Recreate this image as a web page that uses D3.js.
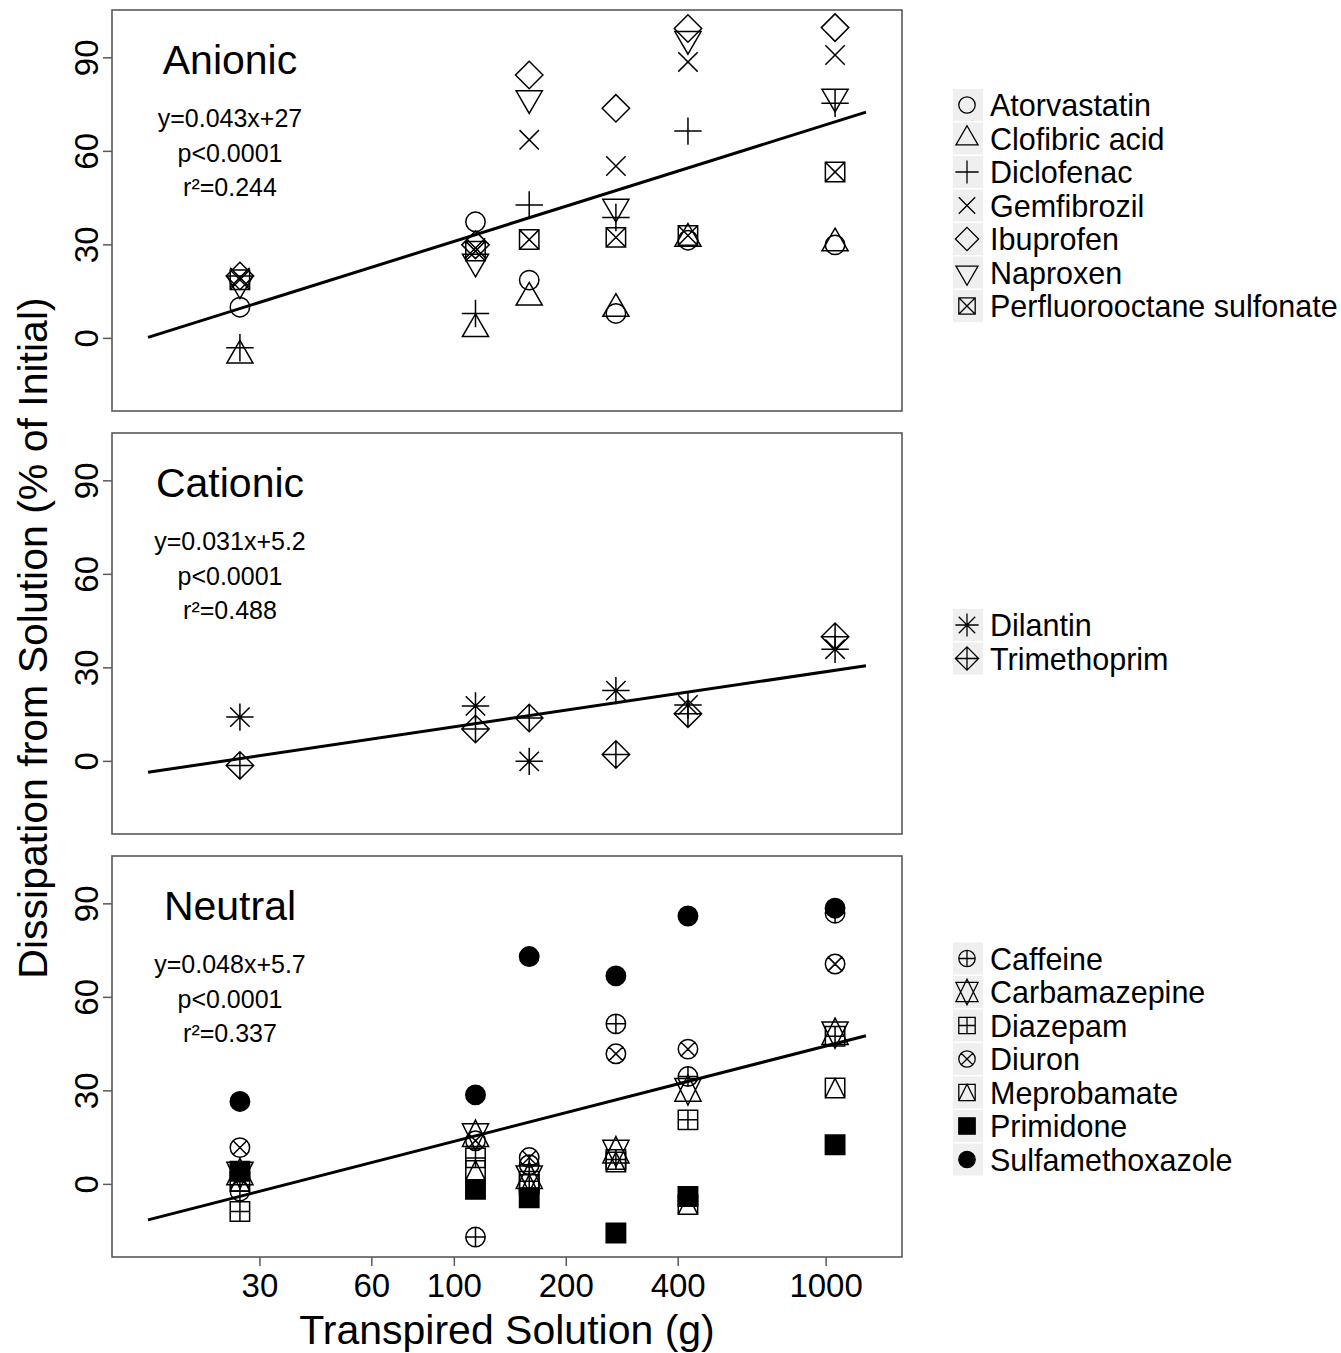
<!DOCTYPE html>
<html>
<head>
<meta charset="utf-8">
<script src="https://cdn.jsdelivr.net/npm/d3@7"></script>
<style>
  body { margin: 0; background: #fff; }
  text { font-family: "Liberation Sans", Arial, sans-serif; fill: #000; }
</style>
</head>
<body>
<svg id="chart" width="1341" height="1353"></svg>
<script>
// Data
var xValues = [26.5, 114, 159, 272, 425, 1057];
var xTicks = [30, 60, 100, 200, 400, 1000];
var yTicks = [0, 30, 60, 90];
var lineX = [15, 1280];

// Anionic
var atorvastatin   = [10, 37.4, 18.7, 8, 31.5, 30];
var clofibricAcid  = [-5.5, 3, 13.1, 9.5, 32, 30.5];
var diclofenac     = [-3, 8, 42.8, 38.8, 66.5, 75.4];
var gemfibrozil    = [19.5, 29, 63.7, 55.3, 88.7, 90.9];
var ibuprofen      = [20, 30, 84.5, 73.8, 99.4, 99.7];
var naproxen       = [17.6, 24.6, 77, 42.2, 96, 77.5];
var pfos           = [18.8, 28, 31.7, 32.4, 33, 53.4];
var anionicLine    = [0.3, 72.6];

// Cationic
var dilantin       = [14.2, 17.8, 0, 22.7, 18.1, 36];
var trimethoprim   = [-1.3, 10.4, 13.9, 2.2, 15.3, 40];
var cationicLine   = [-3.5, 30.7];

// Neutral
var caffeine         = [-2.2, -16.9, 6.3, 51.5, 34.6, 87];
var carbamazepine    = [3.5, 15.8, 2.3, 10.5, 30.3, 48.5];
var diazepam         = [-8.7, 8.5, 1, 8, 20.7, 47.5];
var diuron           = [11.8, 14, 8.6, 41.9, 43.4, 70.7];
var meprobamate      = [1, 4.5, 0, 7.2, -6.5, 30.9];
var primidone        = [4.2, -1.6, -4.3, -15.6, -3.9, 12.7];
var sulfamethoxazole = [26.6, 28.7, 73.1, 66.9, 86.1, 88.6];
var neutralLine      = [-11.4, 47.7];

var panels = [
  { title: "Anionic", eq: ["y=0.043x+27", "p<0.0001", "r\u00b2=0.244"], line: anionicLine,
    series: [
      { name: "Atorvastatin", sym: "circle", values: atorvastatin },
      { name: "Clofibric acid", sym: "triUp", values: clofibricAcid },
      { name: "Diclofenac", sym: "plus", values: diclofenac },
      { name: "Gemfibrozil", sym: "cross", values: gemfibrozil },
      { name: "Ibuprofen", sym: "diamond", values: ibuprofen },
      { name: "Naproxen", sym: "triDown", values: naproxen },
      { name: "Perfluorooctane sulfonate", sym: "squareX", values: pfos }
    ], legendY: 105 },
  { title: "Cationic", eq: ["y=0.031x+5.2", "p<0.0001", "r\u00b2=0.488"], line: cationicLine,
    series: [
      { name: "Dilantin", sym: "asterisk", values: dilantin },
      { name: "Trimethoprim", sym: "diamondPlus", values: trimethoprim }
    ], legendY: 625 },
  { title: "Neutral", eq: ["y=0.048x+5.7", "p<0.0001", "r\u00b2=0.337"], line: neutralLine,
    series: [
      { name: "Caffeine", sym: "circlePlus", values: caffeine },
      { name: "Carbamazepine", sym: "star", values: carbamazepine },
      { name: "Diazepam", sym: "squarePlus", values: diazepam },
      { name: "Diuron", sym: "circleX", values: diuron },
      { name: "Meprobamate", sym: "squareTri", values: meprobamate },
      { name: "Primidone", sym: "squareFill", values: primidone },
      { name: "Sulfamethoxazole", sym: "circleFill", values: sulfamethoxazole }
    ], legendY: 958.5 }
];

var svg = d3.select("#chart");
var left = 112, right = 902, panelH = 401, panelTops = [10, 433, 856];
var axisColor = "#595959";

var x = d3.scaleLog().domain([12, 1600]).range([left, right]);

// R-style plotting symbols, centred at 0,0
function drawSymbol(g, sym, s, sw) {
  var p = d3.path();
  var fill = false;
  var r2 = Math.SQRT2 * s;
  function seg(x1, y1, x2, y2) { p.moveTo(x1, y1); p.lineTo(x2, y2); }
  function sq(h) { p.rect(-h, -h, 2 * h, 2 * h); }
  function circ(r) { p.moveTo(r, 0); p.arc(0, 0, r, 0, 2 * Math.PI); }
  function tri(up, r, yc, xc) {
    if (up) { p.moveTo(0, -r); p.lineTo(xc, yc); p.lineTo(-xc, yc); }
    else { p.moveTo(0, r); p.lineTo(xc, -yc); p.lineTo(-xc, -yc); }
    p.closePath();
  }
  switch (sym) {
    case "circle": circ(s); break;
    case "triUp": tri(true, 1.555 * s, 0.778 * s, 1.347 * s); break;
    case "triDown": tri(false, 1.555 * s, 0.778 * s, 1.347 * s); break;
    case "plus": seg(-r2, 0, r2, 0); seg(0, -r2, 0, r2); break;
    case "cross": seg(-s, -s, s, s); seg(-s, s, s, -s); break;
    case "diamond":
      p.moveTo(0, -r2); p.lineTo(r2, 0); p.lineTo(0, r2); p.lineTo(-r2, 0); p.closePath(); break;
    case "squareX": sq(s); seg(-s, -s, s, s); seg(-s, s, s, -s); break;
    case "asterisk": seg(-s, -s, s, s); seg(-s, s, s, -s); seg(-r2, 0, r2, 0); seg(0, -r2, 0, r2); break;
    case "diamondPlus":
      p.moveTo(0, -r2); p.lineTo(r2, 0); p.lineTo(0, r2); p.lineTo(-r2, 0); p.closePath();
      seg(-r2, 0, r2, 0); seg(0, -r2, 0, r2); break;
    case "circlePlus": circ(s); seg(-s, 0, s, 0); seg(0, -s, 0, s); break;
    case "star":
      tri(true, 1.555 * s, 1.166 * s, 1.347 * s); tri(false, 1.555 * s, 1.166 * s, 1.347 * s); break;
    case "squarePlus": sq(s); seg(-s, 0, s, 0); seg(0, -s, 0, s); break;
    case "circleX": circ(s); seg(-s * 0.707, -s * 0.707, s * 0.707, s * 0.707);
      seg(-s * 0.707, s * 0.707, s * 0.707, -s * 0.707); break;
    case "squareTri": sq(s); p.moveTo(-s, s); p.lineTo(0, -s); p.lineTo(s, s); break;
    case "squareFill": sq(s); fill = true; break;
    case "circleFill": circ(s); fill = true; break;
  }
  g.append("path")
    .attr("d", p.toString())
    .attr("fill", fill ? "#000" : "none")
    .attr("stroke", "#000")
    .attr("stroke-width", sw)
    .attr("stroke-linejoin", "miter");
}

panels.forEach(function (pd, i) {
  var top = panelTops[i];
  var y = d3.scaleLinear().domain([-23.3, 105.35]).range([top + panelH, top]);
  var g = svg.append("g");

  // y ticks + labels
  yTicks.forEach(function (t) {
    g.append("line").attr("x1", left - 9).attr("x2", left)
      .attr("y1", y(t)).attr("y2", y(t))
      .attr("stroke", axisColor).attr("stroke-width", 1.5);
    g.append("text")
      .attr("transform", "translate(98," + y(t) + ") rotate(-90)")
      .attr("text-anchor", "middle")
      .style("font-size", "33px")
      .text(t);
  });

  // regression line
  g.append("line")
    .attr("x1", x(lineX[0])).attr("y1", y(pd.line[0]))
    .attr("x2", x(lineX[1])).attr("y2", y(pd.line[1]))
    .attr("stroke", "#000").attr("stroke-width", 3);

  // points
  pd.series.forEach(function (se) {
    se.values.forEach(function (v, k) {
      var m = g.append("g").attr("transform", "translate(" + x(xValues[k]) + "," + y(v) + ")");
      drawSymbol(m, se.sym, 9.7, 1.5);
    });
  });

  // frame
  g.append("rect")
    .attr("x", left).attr("y", top).attr("width", right - left).attr("height", panelH)
    .attr("fill", "none").attr("stroke", axisColor).attr("stroke-width", 1.6);

  // title & stats
  g.append("text").attr("x", 230).attr("y", top + 64)
    .attr("text-anchor", "middle").style("font-size", "41px").text(pd.title);
  pd.eq.forEach(function (s, k) {
    g.append("text").attr("x", 230).attr("y", top + 117 + k * 34.5)
      .attr("text-anchor", "middle").style("font-size", "25px").text(s);
  });

  // legend
  var step = 33.5;
  pd.series.forEach(function (se, k) {
    var cy = pd.legendY + k * step;
    svg.append("rect").attr("x", 953).attr("y", cy - 16).attr("width", 30).attr("height", 32)
      .attr("fill", "#efefef");
    var m = svg.append("g").attr("transform", "translate(967," + cy + ")");
    drawSymbol(m, se.sym, 8.2, 1.3);
    svg.append("text").attr("x", 990).attr("y", cy + 11)
      .style("font-size", "30.5px").text(se.name);
  });
});

// x axis on the bottom panel
var bottom = panelTops[2] + panelH;
xTicks.forEach(function (t) {
  svg.append("line").attr("x1", x(t)).attr("x2", x(t))
    .attr("y1", bottom).attr("y2", bottom + 9)
    .attr("stroke", axisColor).attr("stroke-width", 1.5);
  svg.append("text").attr("x", x(t)).attr("y", 1297)
    .attr("text-anchor", "middle").style("font-size", "33px").text(t);
});

svg.append("text").attr("x", (left + right) / 2).attr("y", 1344)
  .attr("text-anchor", "middle").style("font-size", "41px")
  .text("Transpired Solution (g)");

svg.append("text")
  .attr("transform", "translate(47,638) rotate(-90)")
  .attr("text-anchor", "middle").style("font-size", "41px")
  .text("Dissipation from Solution (% of Initial)");
</script>
</body>
</html>
